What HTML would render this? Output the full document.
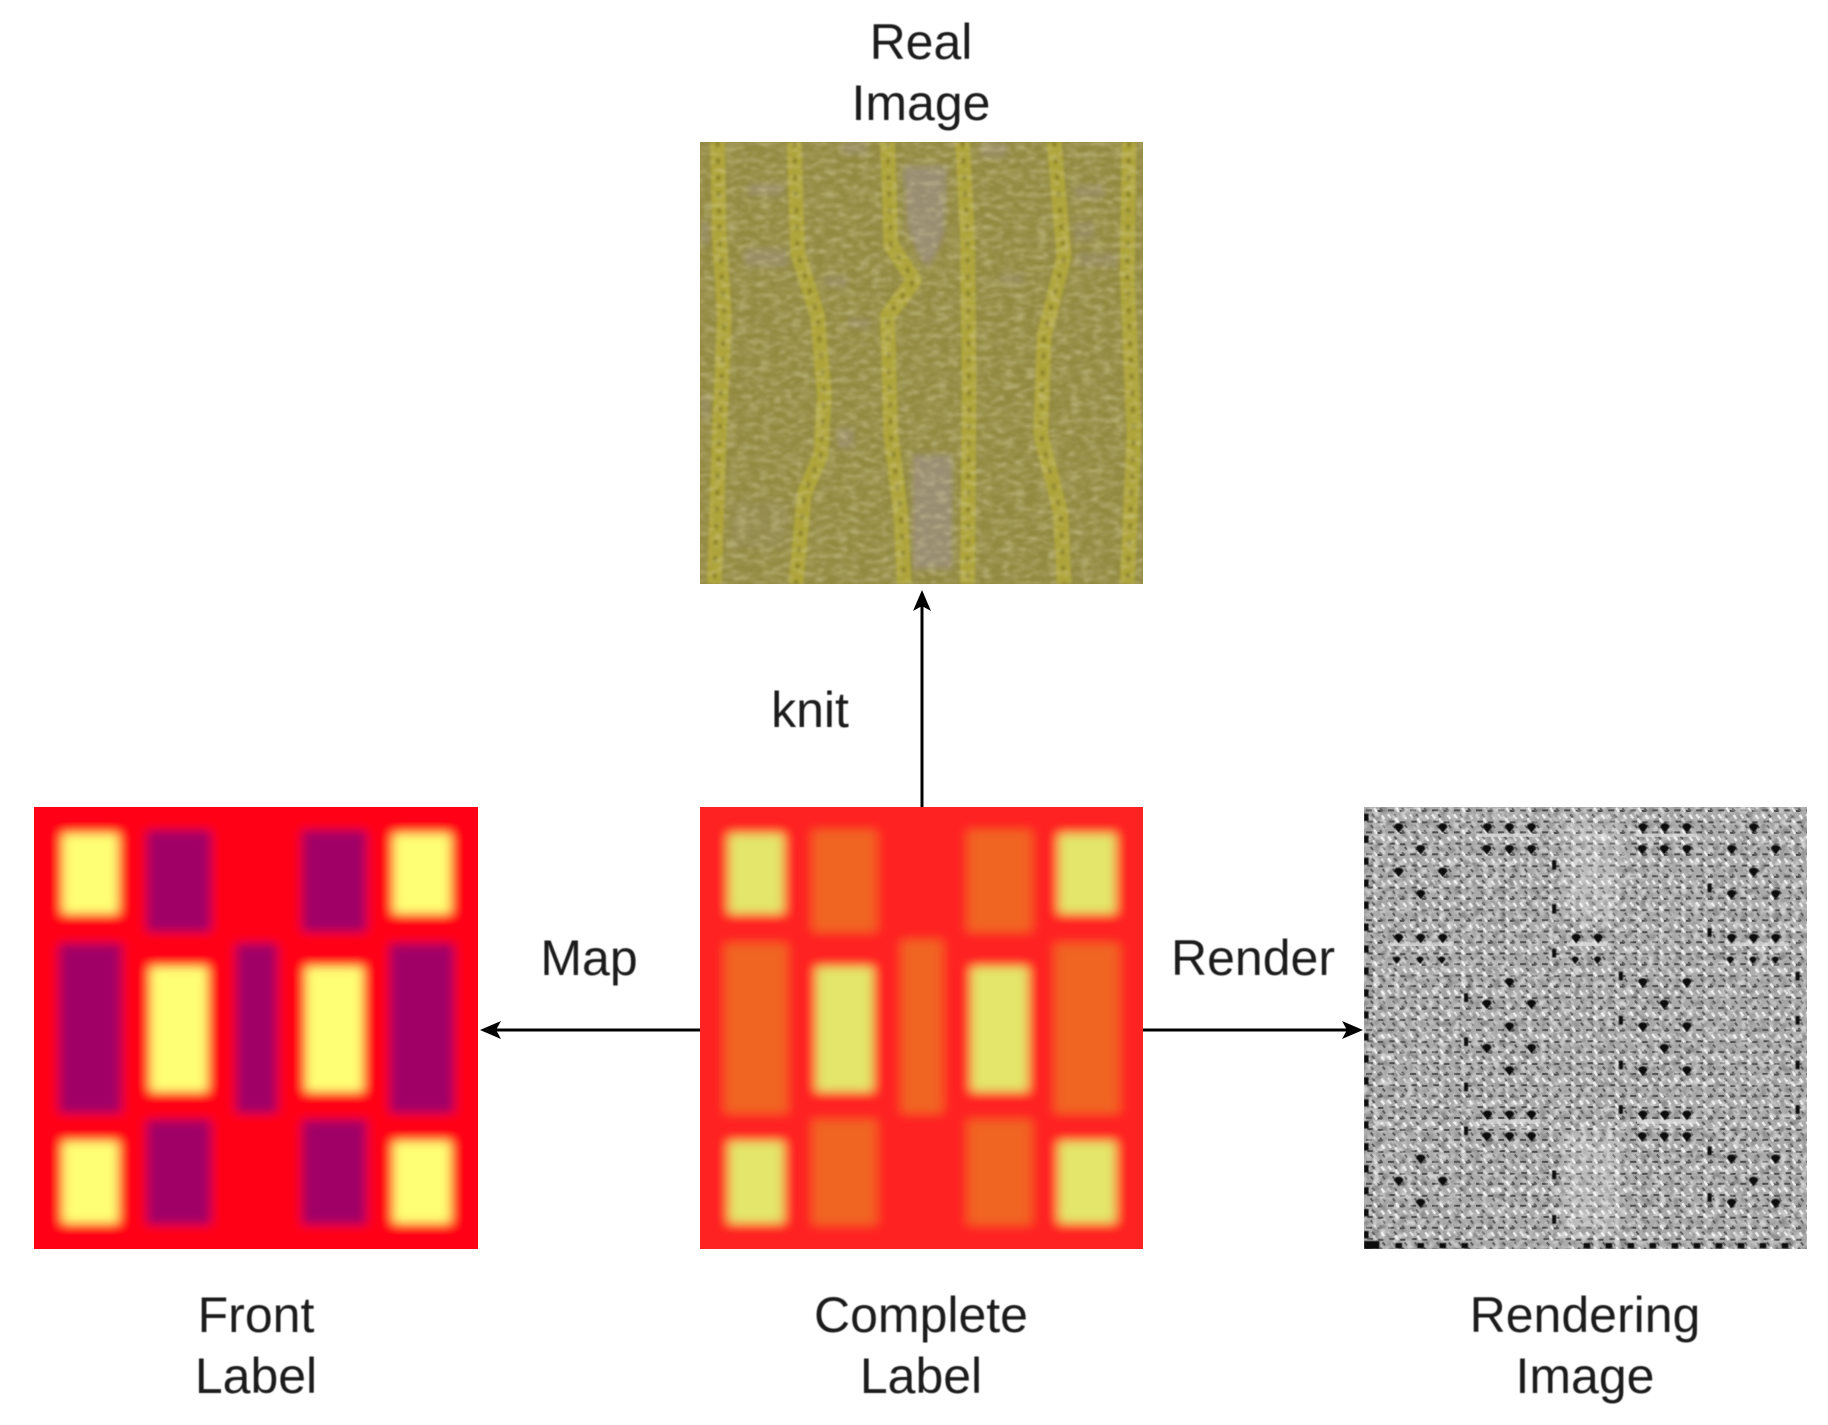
<!DOCTYPE html>
<html><head><meta charset="utf-8"><style>
html,body{margin:0;padding:0;background:#fff}
body{width:1828px;height:1425px;position:relative;overflow:hidden;font-family:"Liberation Sans",sans-serif;color:#1c1c1c}
svg{position:absolute;display:block}
.t{position:absolute;font-size:50px;line-height:61px;text-align:center;white-space:nowrap;filter:blur(.5px)}
</style></head><body>
<svg width="0" height="0" style="left:0;top:0"><defs>
<filter id="b" x="-10%" y="-10%" width="120%" height="120%"><feGaussianBlur stdDeviation="15"/></filter>
<filter id="b2" x="-40%" y="-40%" width="180%" height="180%"><feGaussianBlur stdDeviation="9"/></filter>
<filter id="b3"><feGaussianBlur stdDeviation="4"/></filter>
<filter id="b4"><feGaussianBlur stdDeviation="1.2"/></filter>
<filter id="nk" x="0" y="0" width="100%" height="100%"><feTurbulence type="fractalNoise" baseFrequency="0.028 0.065" numOctaves="2" seed="5"/><feColorMatrix values="0 0 0 0 .36  0 0 0 0 .32  0 0 0 0 .1  3.2 0 0 0 -1.4"/><feGaussianBlur stdDeviation="3"/></filter>
<filter id="nl" x="0" y="0" width="100%" height="100%"><feTurbulence type="fractalNoise" baseFrequency="0.03 0.07" numOctaves="2" seed="11"/><feColorMatrix values="0 0 0 0 .72  0 0 0 0 .67  0 0 0 0 .38  2.8 0 0 0 -1.25"/><feGaussianBlur stdDeviation="3"/></filter>
<filter id="ng" x="0" y="0" width="100%" height="100%"><feTurbulence type="fractalNoise" baseFrequency="0.05" numOctaves="1" seed="3"/><feColorMatrix values="0 0 0 0 .15  0 0 0 0 .15  0 0 0 0 .15  4 0 0 0 -1.9"/></filter>
<filter id="ngl" x="0" y="0" width="100%" height="100%"><feTurbulence type="fractalNoise" baseFrequency="0.05" numOctaves="1" seed="9"/><feColorMatrix values="0 0 0 0 1  0 0 0 0 1  0 0 0 0 1  4 0 0 0 -1.9"/></filter>
<pattern id="tile" width="66" height="66" patternUnits="userSpaceOnUse" x="12" y="20">
<rect width="66" height="66" fill="#ababab"/>
<path d="M6 10h18M38 12h16M10 44h16M42 46h16" stroke="#4a4a4a" stroke-width="6"/>
<path d="M6 22l9 12M30 2l9 13M52 24l9 12M28 34l9 13" stroke="#eee" stroke-width="7"/>
<path d="M24 22l8 9M48 4l8 9M20 54l7 9M56 54l7 9" stroke="#5a5a5a" stroke-width="6"/>
</pattern>
</defs></svg>

<!-- Real image -->
<svg style="left:699.5px;top:142px" width="443" height="442" viewBox="57 360 1330 1118" preserveAspectRatio="none">
<rect x="57" y="360" width="1330" height="1118" fill="#938a42"/>
<rect x="57" y="360" width="1330" height="1118" filter="url(#nk)" opacity=".8"/>
<g filter="url(#b2)" fill="#9a8e72">
<path d="M665 420H800L790 600L750 670H725L680 580Z"/><rect x="695" y="1150" width="120" height="290"/>
<rect x="200" y="465" width="110" height="30" opacity=".7"/><rect x="190" y="630" width="130" height="45" opacity=".7"/>
<rect x="430" y="700" width="70" height="25" opacity=".7"/><rect x="500" y="805" width="70" height="25" opacity=".6"/>
<rect x="470" y="1085" width="50" height="50" opacity=".7"/><rect x="1180" y="470" width="90" height="30" opacity=".7"/>
<rect x="1180" y="560" width="60" height="50" opacity=".6"/><rect x="1190" y="640" width="120" height="35" opacity=".6"/>
<rect x="960" y="695" width="70" height="25" opacity=".6"/><rect x="480" y="360" width="80" height="30" opacity=".7"/>
<rect x="900" y="360" width="80" height="40" opacity=".7"/><rect x="57" y="560" width="30" height="60" opacity=".7"/>
<rect x="57" y="1000" width="30" height="60" opacity=".6"/><rect x="150" y="1270" width="170" height="120" opacity=".25"/>
</g>
<g fill="none" stroke="#aea43a" stroke-width="44" stroke-linejoin="round" filter="url(#b3)">
<path d="M110 360L115 600L130 800L115 1100L100 1478"/>
<path d="M340 360L350 640L410 800L430 1000L420 1150L370 1250L345 1478"/>
<path d="M620 360L630 620L700 710L620 800L630 1100L660 1300L670 1478"/>
<path d="M845 360L860 600L865 1000L860 1478"/>
<path d="M1120 360L1150 650L1090 850L1080 1100L1140 1300L1150 1478"/>
<path d="M1345 360L1340 700L1360 1100L1340 1478"/>
</g>
<g fill="none" stroke="#7d7420" stroke-width="11" stroke-dasharray="12 30" filter="url(#b3)" opacity=".8">
<path d="M110 360L115 600L130 800L115 1100L100 1478"/>
<path d="M340 360L350 640L410 800L430 1000L420 1150L370 1250L345 1478"/>
<path d="M620 360L630 620L700 710L620 800L630 1100L660 1300L670 1478"/>
<path d="M845 360L860 600L865 1000L860 1478"/>
<path d="M1120 360L1150 650L1090 850L1080 1100L1140 1300L1150 1478"/>
<path d="M1345 360L1340 700L1360 1100L1340 1478"/>
</g>
<rect x="57" y="360" width="1330" height="1118" filter="url(#nl)" opacity=".4"/>
</svg>

<!-- Front label -->
<svg style="left:34px;top:807px" width="444" height="442" viewBox="95 80 1242 1328" preserveAspectRatio="none">
<g filter="url(#b)">
<rect x="0" y="0" width="1440" height="1500" fill="#ff0012"/>
<g fill="#a00066">
<rect x="410" y="150" width="180" height="305"/><rect x="845" y="150" width="180" height="305"/>
<rect x="165" y="490" width="175" height="510"/><rect x="660" y="490" width="115" height="510"/><rect x="1090" y="490" width="180" height="510"/>
<rect x="410" y="1020" width="180" height="315"/><rect x="845" y="1020" width="180" height="315"/>
</g>
<g fill="#ffff75">
<rect x="175" y="160" width="155" height="240"/><rect x="1100" y="160" width="160" height="240"/>
<rect x="420" y="560" width="160" height="375"/><rect x="855" y="560" width="160" height="375"/>
<rect x="175" y="1085" width="155" height="245"/><rect x="1100" y="1085" width="160" height="245"/>
</g></g></svg>

<!-- Complete label -->
<svg style="left:699.5px;top:807px" width="443" height="442" viewBox="95 80 1242 1328" preserveAspectRatio="none">
<g filter="url(#b)">
<rect x="0" y="0" width="1440" height="1500" fill="#fe2020"/>
<g fill="#f06520">
<rect x="410" y="150" width="180" height="305"/><rect x="845" y="150" width="180" height="305"/>
<rect x="165" y="490" width="175" height="510"/><rect x="660" y="480" width="115" height="520"/><rect x="1090" y="490" width="180" height="510"/>
<rect x="410" y="1020" width="180" height="315"/><rect x="845" y="1020" width="180" height="315"/>
</g>
<g fill="#e3e66a">
<rect x="175" y="160" width="155" height="240"/><rect x="1100" y="160" width="160" height="240"/>
<rect x="420" y="560" width="160" height="375"/><rect x="855" y="560" width="160" height="375"/>
<rect x="175" y="1085" width="155" height="245"/><rect x="1100" y="1085" width="160" height="245"/>
</g></g></svg>

<!-- Rendering image -->
<svg style="left:1364px;top:807px" width="443" height="442" viewBox="12 20 1328 1328" preserveAspectRatio="none">
<rect x="12" y="20" width="1328" height="1328" fill="url(#tile)"/>
<rect x="12" y="20" width="1328" height="1328" filter="url(#ng)" opacity=".45"/>
<rect x="12" y="20" width="1328" height="1328" filter="url(#ngl)" opacity=".45"/>
<g fill="#fff" opacity=".2" filter="url(#b2)"><rect x="610" y="60" width="170" height="300"/><rect x="610" y="1000" width="170" height="300"/></g>
<g fill="#e8e8e8" opacity=".6">
<rect x="350" y="100" width="190" height="10"/><rect x="830" y="100" width="180" height="10"/>
<rect x="90" y="424" width="190" height="14"/><rect x="620" y="424" width="120" height="14"/><rect x="1095" y="424" width="190" height="14"/>
<rect x="360" y="958" width="180" height="14"/><rect x="830" y="958" width="180" height="14"/>
</g>
<g fill="#0c0c0c" filter="url(#b4)">
<path d="M116 80m-14 0a14 11 0 1 1 28 0l-14 18zM248 80m-14 0a14 11 0 1 1 28 0l-14 18zM382 80m-14 0a14 11 0 1 1 28 0l-14 18zM448 80m-14 0a14 11 0 1 1 28 0l-14 18zM514 80m-14 0a14 11 0 1 1 28 0l-14 18zM848 80m-14 0a14 11 0 1 1 28 0l-14 18zM914 80m-14 0a14 11 0 1 1 28 0l-14 18zM980 80m-14 0a14 11 0 1 1 28 0l-14 18zM1180 80m-14 0a14 11 0 1 1 28 0l-14 18z"/>
<path d="M182 145m-14 0a14 11 0 1 1 28 0l-14 18zM380 145m-14 0a14 11 0 1 1 28 0l-14 18zM448 145m-14 0a14 11 0 1 1 28 0l-14 18zM514 145m-14 0a14 11 0 1 1 28 0l-14 18zM846 145m-14 0a14 11 0 1 1 28 0l-14 18zM912 145m-14 0a14 11 0 1 1 28 0l-14 18zM980 145m-14 0a14 11 0 1 1 28 0l-14 18zM1114 145m-14 0a14 11 0 1 1 28 0l-14 18zM1246 145m-14 0a14 11 0 1 1 28 0l-14 18z"/>
<path d="M116 213m-14 0a14 11 0 1 1 28 0l-14 18zM248 213m-14 0a14 11 0 1 1 28 0l-14 18zM1180 213m-14 0a14 11 0 1 1 28 0l-14 18zM182 280m-14 0a14 11 0 1 1 28 0l-14 18zM1114 280m-14 0a14 11 0 1 1 28 0l-14 18zM1246 280m-14 0a14 11 0 1 1 28 0l-14 18z"/>
<path d="M116 412m-14 0a14 11 0 1 1 28 0l-14 18zM182 412m-14 0a14 11 0 1 1 28 0l-14 18zM248 412m-14 0a14 11 0 1 1 28 0l-14 18zM648 412m-14 0a14 11 0 1 1 28 0l-14 18zM714 412m-14 0a14 11 0 1 1 28 0l-14 18zM1114 412m-14 0a14 11 0 1 1 28 0l-14 18zM1180 412m-14 0a14 11 0 1 1 28 0l-14 18zM1246 412m-14 0a14 11 0 1 1 28 0l-14 18z"/>
<path d="M448 545m-14 0a14 11 0 1 1 28 0l-14 18zM848 545m-14 0a14 11 0 1 1 28 0l-14 18zM980 545m-14 0a14 11 0 1 1 28 0l-14 18zM380 610m-14 0a14 11 0 1 1 28 0l-14 18zM514 610m-14 0a14 11 0 1 1 28 0l-14 18zM912 610m-14 0a14 11 0 1 1 28 0l-14 18zM448 678m-14 0a14 11 0 1 1 28 0l-14 18zM848 678m-14 0a14 11 0 1 1 28 0l-14 18zM980 678m-14 0a14 11 0 1 1 28 0l-14 18zM380 743m-14 0a14 11 0 1 1 28 0l-14 18zM514 743m-14 0a14 11 0 1 1 28 0l-14 18zM912 743m-14 0a14 11 0 1 1 28 0l-14 18zM448 810m-14 0a14 11 0 1 1 28 0l-14 18zM848 810m-14 0a14 11 0 1 1 28 0l-14 18zM980 810m-14 0a14 11 0 1 1 28 0l-14 18z"/>
<path d="M382 943m-14 0a14 11 0 1 1 28 0l-14 18zM448 943m-14 0a14 11 0 1 1 28 0l-14 18zM514 943m-14 0a14 11 0 1 1 28 0l-14 18zM848 943m-14 0a14 11 0 1 1 28 0l-14 18zM914 943m-14 0a14 11 0 1 1 28 0l-14 18zM980 943m-14 0a14 11 0 1 1 28 0l-14 18zM380 1008m-14 0a14 11 0 1 1 28 0l-14 18zM448 1008m-14 0a14 11 0 1 1 28 0l-14 18zM514 1008m-14 0a14 11 0 1 1 28 0l-14 18zM846 1008m-14 0a14 11 0 1 1 28 0l-14 18zM912 1008m-14 0a14 11 0 1 1 28 0l-14 18zM980 1008m-14 0a14 11 0 1 1 28 0l-14 18z"/>
<path d="M182 1075m-14 0a14 11 0 1 1 28 0l-14 18zM1114 1075m-14 0a14 11 0 1 1 28 0l-14 18zM1246 1075m-14 0a14 11 0 1 1 28 0l-14 18zM116 1142m-14 0a14 11 0 1 1 28 0l-14 18zM248 1142m-14 0a14 11 0 1 1 28 0l-14 18zM1180 1142m-14 0a14 11 0 1 1 28 0l-14 18zM182 1208m-14 0a14 11 0 1 1 28 0l-14 18zM1114 1208m-14 0a14 11 0 1 1 28 0l-14 18zM1246 1208m-14 0a14 11 0 1 1 28 0l-14 18z"/>
<path d="M110 478m-11 0a11 9 0 1 1 22 0l-11 14zM180 478m-11 0a11 9 0 1 1 22 0l-11 14zM245 478m-11 0a11 9 0 1 1 22 0l-11 14zM645 478m-11 0a11 9 0 1 1 22 0l-11 14zM712 478m-11 0a11 9 0 1 1 22 0l-11 14zM1110 478m-11 0a11 9 0 1 1 22 0l-11 14zM1178 478m-11 0a11 9 0 1 1 22 0l-11 14zM1245 478m-11 0a11 9 0 1 1 22 0l-11 14z"/>
<path d="M576 180h12v28h-12zM576 312h12v28h-12zM576 446h12v26h-12zM312 580h12v26h-12zM312 712h12v26h-12zM312 848h12v26h-12zM312 980h12v26h-12zM576 1112h12v26h-12zM576 1246h12v26h-12zM1042 250h12v26h-12zM1042 384h12v26h-12zM776 515h12v26h-12zM776 648h12v26h-12zM776 782h12v26h-12zM776 916h12v26h-12zM1042 1040h12v26h-12zM1042 1180h12v26h-12zM1306 515h12v26h-12zM1306 648h12v26h-12zM1306 782h12v26h-12zM1306 916h12v26h-12z"/>
<path d="M12 40h14v22h-14zM12 106h14v22h-14zM12 172h14v22h-14zM12 238h14v22h-14zM12 304h14v22h-14zM12 370h14v22h-14zM12 436h14v22h-14zM12 502h14v22h-14zM12 568h14v22h-14zM12 634h14v22h-14zM12 700h14v22h-14zM12 766h14v22h-14zM12 832h14v22h-14zM12 898h14v22h-14zM12 964h14v22h-14zM12 1030h14v22h-14zM12 1096h14v22h-14zM12 1162h14v22h-14zM12 1228h14v22h-14zM12 1294h14v22h-14zM12 1324h46v24h-46z"/>
<path d="M106 1330h20v16h-20zM172 1330h20v16h-20zM238 1330h20v16h-20zM304 1330h20v16h-20zM670 1330h20v16h-20zM736 1330h20v16h-20zM802 1330h20v16h-20zM868 1330h20v16h-20zM934 1330h20v16h-20zM1000 1330h20v16h-20zM1066 1330h20v16h-20zM1132 1330h20v16h-20zM1198 1330h20v16h-20zM1264 1330h20v16h-20z"/>
</g></svg>

<!-- Arrows -->
<svg style="left:0;top:0" width="1828" height="1425">
<path d="M922 807V606" stroke="#000" stroke-width="3" fill="none"/>
<path d="M922 590L913 611L922 606L931 611Z" fill="#000"/>
<path d="M700 1030H495" stroke="#000" stroke-width="3" fill="none"/>
<path d="M480 1030L501 1021L496 1030L501 1039Z" fill="#000"/>
<path d="M1143 1030H1348" stroke="#000" stroke-width="3" fill="none"/>
<path d="M1363 1030L1342 1021L1347 1030L1342 1039Z" fill="#000"/>
</svg>

<!-- Labels -->
<div class="t" style="left:721px;width:400px;top:12px">Real<br>Image</div>
<div class="t" style="left:56px;width:400px;top:1285px">Front<br>Label</div>
<div class="t" style="left:721px;width:400px;top:1285px">Complete<br>Label</div>
<div class="t" style="left:1385px;width:400px;top:1285px">Rendering<br>Image</div>
<div class="t" style="left:489px;width:200px;top:928px">Map</div>
<div class="t" style="left:1153px;width:200px;top:928px">Render</div>
<div class="t" style="left:710px;width:200px;top:680px">knit</div>
</body></html>
